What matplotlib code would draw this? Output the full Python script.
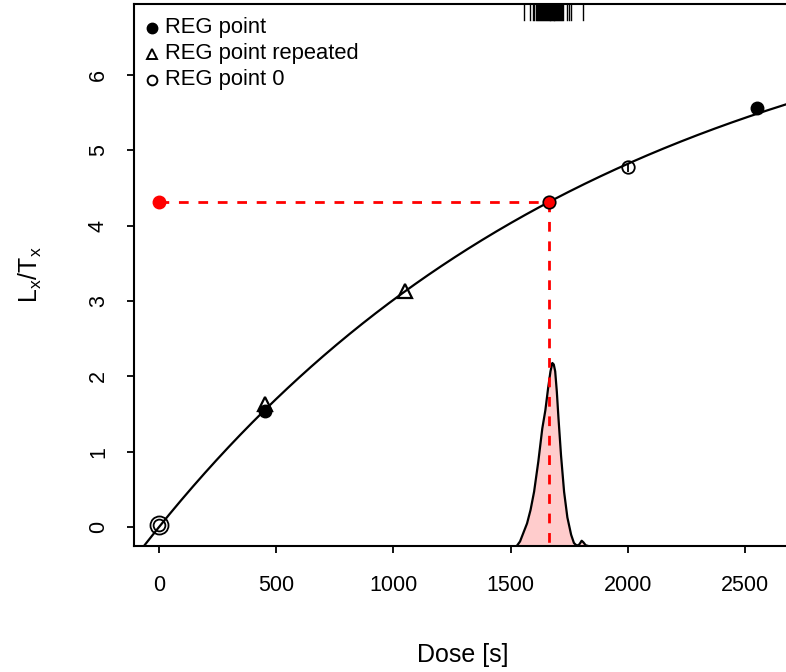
import numpy as np
import matplotlib
matplotlib.use("Agg")
import matplotlib.pyplot as plt

plt.rcParams['font.family'] = ['Liberation Sans', 'DejaVu Sans']
plt.rcParams['mathtext.fontset'] = 'custom'
plt.rcParams['mathtext.rm'] = 'Liberation Sans'
plt.rcParams['mathtext.it'] = 'Liberation Sans'

# ---- data ----
reg_dose = [450, 2550]
reg_lxtx = [1.54, 5.56]
rep_dose = [450, 1050]
rep_lxtx = [1.63, 3.13]
zero_dose = [0]
zero_lxtx = [0.03]
open_dose = [2000]
open_lxtx = [4.78]
open_err = [0.06]

# saturating exponential fit parameters
fit_a = 7.52
fit_b = 1950.0

# equivalent dose
de_dose = 1664
de_lxtx = 4.32

# density of MC De (x, scaled height above bottom)
dens_x = [1526, 1540, 1555, 1570, 1585, 1600, 1618, 1635, 1648, 1660, 1670,
          1678, 1684, 1690, 1697, 1704, 1715, 1728, 1742, 1758, 1770, 1780,
          1790, 1797, 1803, 1810, 1820, 1831]
dens_y = [0.0, 0.06, 0.18, 0.30, 0.48, 0.72, 1.12, 1.56, 1.80, 2.10, 2.32,
          2.43, 2.41, 2.32, 2.05, 1.70, 1.20, 0.72, 0.38, 0.15, 0.04, 0.01,
          0.01, 0.04, 0.07, 0.05, 0.01, 0.0]

# MC samples (rug)
rug_x = [1557, 1583, 1594, 1598, 1607, 1612, 1618, 1622, 1627, 1631, 1635,
         1640, 1644, 1648, 1651, 1655, 1659, 1662, 1666, 1669, 1672, 1676,
         1679, 1683, 1687, 1690, 1694, 1698, 1702, 1706, 1710, 1715, 1719,
         1724, 1739, 1749, 1758, 1808]

xticks = [0, 500, 1000, 1500, 2000, 2500]
yticks = [0, 1, 2, 3, 4, 5, 6]
legend_labels = ['REG point', 'REG point repeated', 'REG point 0']

# ---- figure ----
W, H = 786, 672
fig = plt.figure(figsize=(W / 100, H / 100), dpi=100)
left, right, top, bottom = 134, 789.6, 4, 546
ax = fig.add_axes([left / W, 1 - bottom / H, (right - left) / W, (bottom - top) / H])
xlim = (-106.7, 2690)
ylim = (-0.252, 6.945)
ax.set_xlim(*xlim)
ax.set_ylim(*ylim)

# density
ax.fill_between(dens_x, ylim[0], np.array(dens_y) + ylim[0], color='#FFCCCC',
                lw=0, zorder=1)
ax.plot(dens_x, np.array(dens_y) + ylim[0], color='black', lw=1.6, zorder=2)

# fitted curve
xc = np.linspace(xlim[0], xlim[1], 500)
yc = fit_a * (1 - np.exp(-xc / fit_b))
ax.plot(xc, yc, color='black', lw=1.6, zorder=3)

# red dashed lines
dash = (0, (3.5, 3.5))
ax.plot([0, de_dose], [de_lxtx, de_lxtx], color='red', lw=2, ls=dash, zorder=4)
ax.plot([de_dose, de_dose], [de_lxtx, ylim[0]], color='red', lw=2, ls=dash, zorder=4)
ax.plot([0], [de_lxtx], 'o', color='red', ms=9, mec='red', zorder=5)
ax.plot([de_dose], [de_lxtx], 'o', color='red', ms=9, mec='black', mew=1.2, zorder=5)

# points
ax.plot(reg_dose, reg_lxtx, 'o', color='black', ms=9, zorder=5)
ax.plot(rep_dose, rep_lxtx, '^', mfc='none', mec='black', mew=1.6, ms=10.5, zorder=5)
ax.plot(zero_dose, zero_lxtx, 'o', mfc='none', mec='black', mew=1.3, ms=13, zorder=5)
ax.plot(zero_dose, zero_lxtx, 'o', mfc='none', mec='black', mew=1.3, ms=8.5, zorder=5)
ax.errorbar(open_dose, open_lxtx, yerr=open_err, fmt='o', mfc='none', mec='black',
            mew=1.3, ms=9, ecolor='black', elinewidth=1.3, capsize=0, zorder=5)

# rug on top
for r in rug_x:
    ax.plot([r, r], [ylim[1], ylim[1] - 0.03 * (ylim[1] - ylim[0])], color='black',
            lw=1, zorder=3)

# legend (drawn manually, R-style)
leg_y = [28, 54, 80]
leg_styles = [dict(marker='o', color='black', ms=7.5),
              dict(marker='^', mfc='none', mec='black', mew=1.4, ms=7.5),
              dict(marker='o', mfc='none', mec='black', mew=1.4, ms=7)]
for yy, lab, st in zip(leg_y, legend_labels, leg_styles):
    fig.add_artist(plt.Line2D([152 / W], [1 - yy / H], transform=fig.transFigure,
                              ls='none', **st))
    fig.text(165 / W, 1 - yy / H, lab, ha='left', va='center', fontsize=15.8)

# axes styling
ax.set_xticks(xticks)
ax.set_yticks(yticks)
ax.tick_params(axis='both', direction='out', length=5, width=1.3, labelsize=15.5)
ax.tick_params(axis='x', pad=16)
ax.tick_params(axis='y', pad=13)
for lab in ax.get_yticklabels():
    lab.set_rotation(90)
    lab.set_va('center')
for sp in ax.spines.values():
    sp.set_linewidth(1.5)

fig.text(463 / W, 1 - 655 / H, 'Dose [s]', ha='center', va='center', fontsize=18)
fig.text(30 / W, 1 - 275 / H, 'L$_x$/T$_x$', ha='center', va='center',
         rotation=90, fontsize=18)

fig.savefig('out.png', dpi=100)
